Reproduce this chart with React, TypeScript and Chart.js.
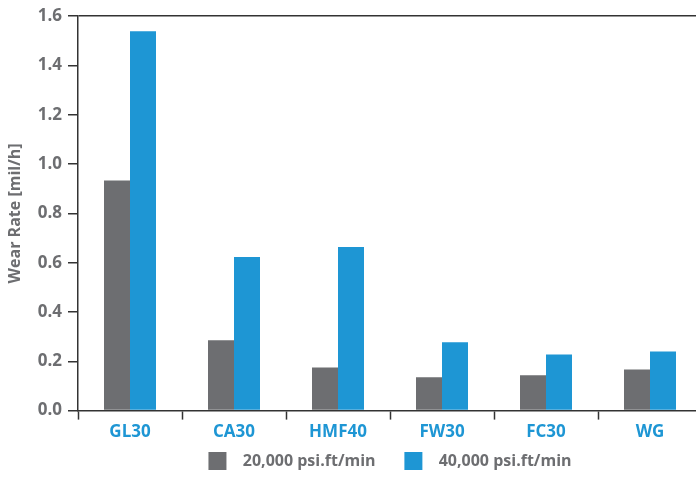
import React, { useEffect, useRef } from "react";
import { Chart, registerables } from "chart.js";

Chart.register(...registerables);

const categories = ["GL30", "CA30", "HMF40", "FW30", "FC30", "WG"];
const series20k = [0.933, 0.285, 0.175, 0.135, 0.143, 0.167];
const series40k = [1.539, 0.623, 0.664, 0.277, 0.228, 0.24];
const seriesNames = ["20,000 psi.ft/min", "40,000 psi.ft/min"];
const yTicks = [0, 0.2, 0.4, 0.6, 0.8, 1.0, 1.2, 1.4, 1.6];

const GRAY = "#6d6e71";
const BLUE = "#1e96d4";
const AXIS = "#333333";
const FONT = "'Open Sans', 'Noto Sans', sans-serif";

export default function App() {
  const ref = useRef<HTMLCanvasElement | null>(null);
  useEffect(() => {
    if (!ref.current) return;
    const chart = new Chart(ref.current, {
      type: "bar",
      data: {
        labels: categories,
        datasets: [
          { label: seriesNames[0], data: series20k, backgroundColor: GRAY, borderWidth: 0 },
          { label: seriesNames[1], data: series40k, backgroundColor: BLUE, borderWidth: 0 },
        ],
      },
      options: {
        animation: false,
        responsive: false,
        maintainAspectRatio: false,
        layout: { padding: { top: 16, right: 0, left: 6, bottom: 22 } },
        datasets: { bar: { categoryPercentage: 0.5, barPercentage: 1.0 } },
        plugins: {
          tooltip: { enabled: false },
          legend: {
            position: "bottom",
            fullSize: false,
            labels: {
              boxWidth: 18,
              boxHeight: 18,
              padding: 8,
              color: GRAY,
              font: { family: FONT, size: 16, weight: "bold" },
              generateLabels: (ch: any) =>
                ch.data.datasets.map((ds: any, i: number) => ({
                  text:
                    "  " + ds.label + (i < ch.data.datasets.length - 1 ? "     " : ""),
                  fillStyle: ds.backgroundColor,
                  strokeStyle: ds.backgroundColor,
                  lineWidth: 0,
                  fontColor: GRAY,
                  hidden: false,
                  datasetIndex: i,
                })),
            },
          },
        },
        scales: {
          x: {
            grid: {
              offset: true,
              drawOnChartArea: false,
              drawTicks: true,
              tickLength: 9,
              tickColor: AXIS,
              tickWidth: 1.5,
            },
            border: { color: AXIS, width: 1.5 },
            ticks: {
              color: BLUE,
              padding: 2,
              font: { family: FONT, size: 17, weight: "bold" },
            },
          },
          y: {
            min: 0,
            max: 1.6,
            afterBuildTicks: (scale: any) => {
              scale.ticks = yTicks.map((v) => ({ value: v }));
            },
            afterFit: (scale: any) => {
              scale.width = 72;
            },
            grid: {
              drawTicks: true,
              tickLength: 10,
              tickColor: AXIS,
              tickWidth: 1.5,
              lineWidth: 1.5,
              color: (ctx: any) =>
                ctx.tick && Math.abs(ctx.tick.value - 1.6) < 1e-6 ? AXIS : "rgba(0,0,0,0)",
            },
            border: { color: AXIS, width: 1.5 },
            ticks: {
              color: GRAY,
              padding: 6,
              font: { family: FONT, size: 17, weight: "bold" },
              callback: (v: any) => Number(v).toFixed(1),
            },
            title: {
              display: true,
              text: "Wear Rate [mil/h]",
              color: GRAY,
              padding: { top: 0, bottom: 2 },
              font: { family: FONT, size: 16, weight: "bold" },
            },
          },
        },
      },
    });
    return () => chart.destroy();
  }, []);
  return (
    <div
      style={{
        position: "absolute",
        left: 0,
        top: 0,
        width: 696,
        height: 502,
        overflow: "hidden",
        background: "#fff",
      }}
    >
      <canvas ref={ref} width={702} height={502} style={{ display: "block" }} />
    </div>
  );
}
